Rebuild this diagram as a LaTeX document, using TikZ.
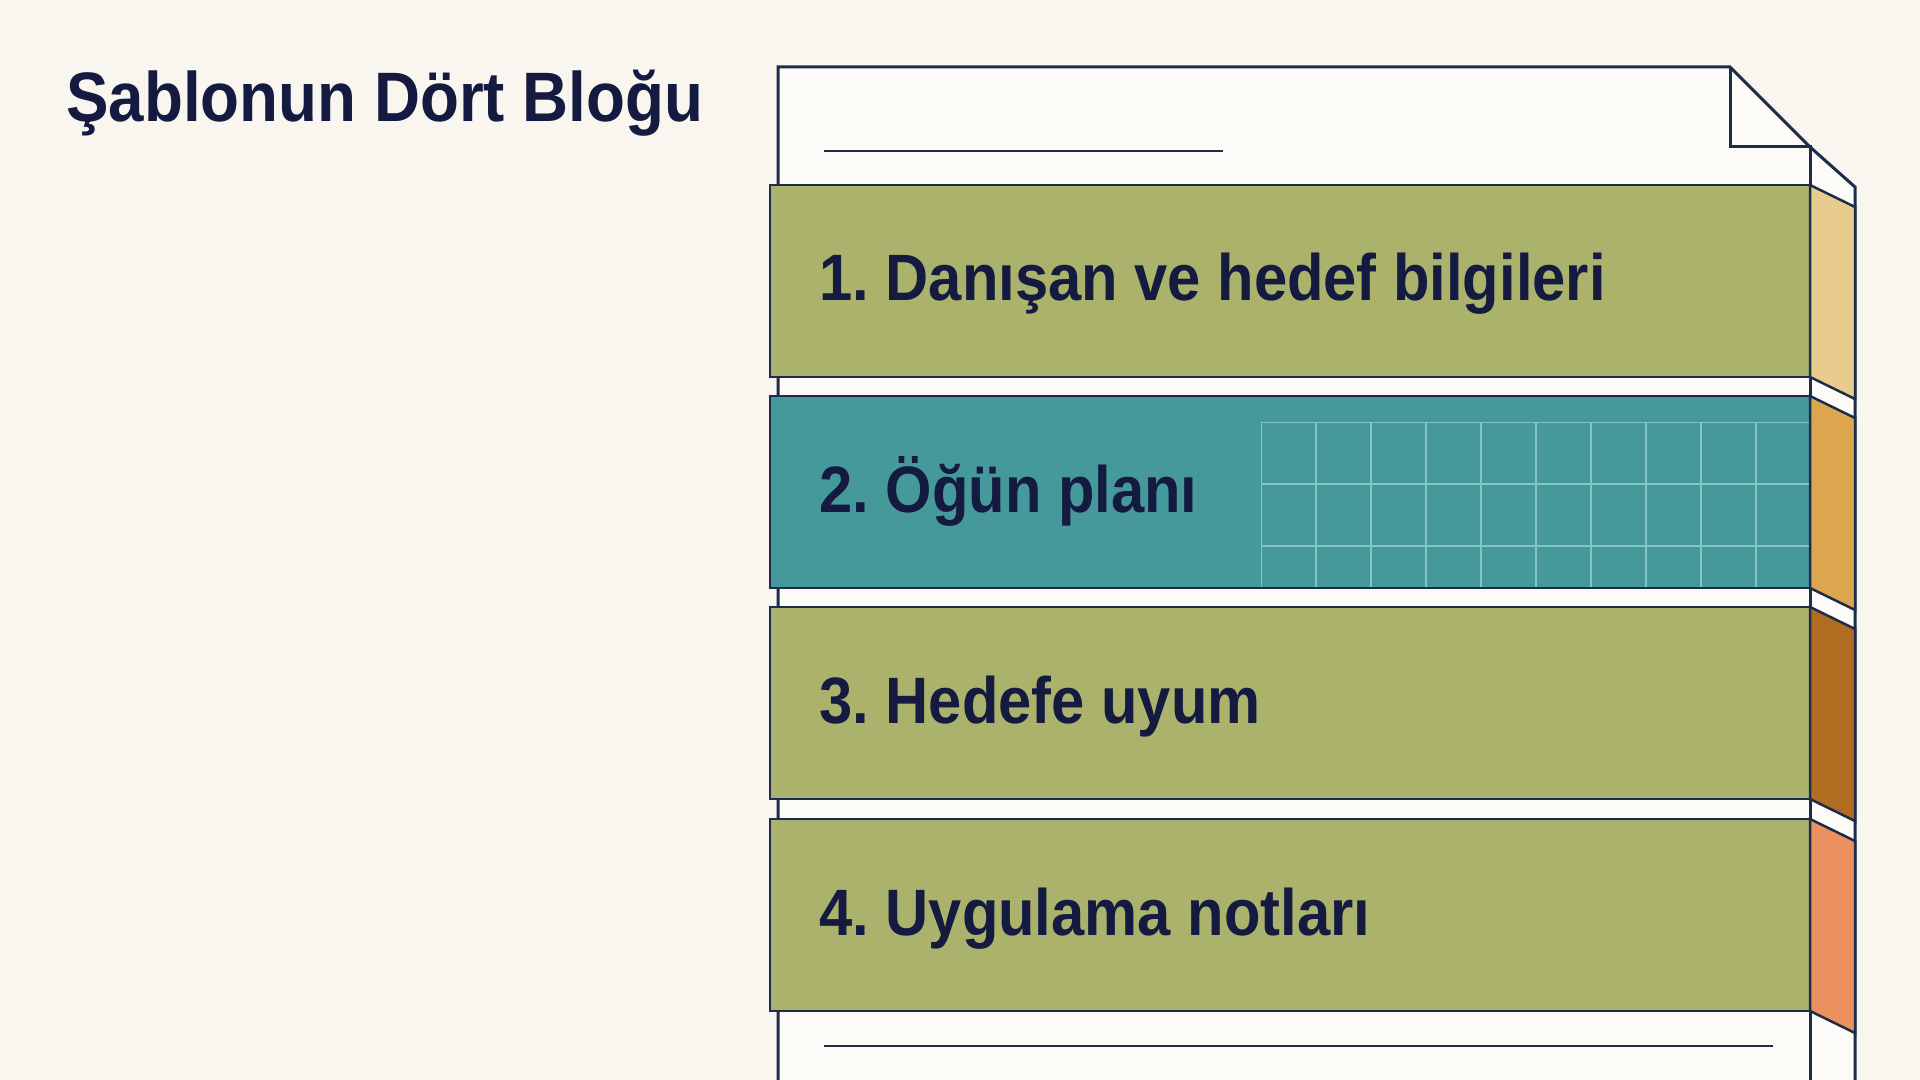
\documentclass[tikz,border=0pt]{standalone}
\usepackage{fontspec}
\setmainfont{Liberation Sans}
\newfontfamily\headfont{Liberation Sans}[FakeStretch=0.91]
\frenchspacing
\definecolor{bg}{HTML}{F8F6EE}
\definecolor{paper}{HTML}{FCFBF7}
\definecolor{navy}{HTML}{1D2B4C}
\definecolor{ink}{HTML}{141A40}
\definecolor{olive}{HTML}{ABB26B}
\definecolor{tealc}{HTML}{46999A}
\definecolor{gridc}{HTML}{86C6C2}
\definecolor{tabA}{HTML}{E8CC8E}
\definecolor{tabB}{HTML}{DBA64E}
\definecolor{tabC}{HTML}{B06D22}
\definecolor{tabD}{HTML}{EA915F}
\begin{document}
\begin{tikzpicture}[x=0.5pt,y=-0.5pt,
  outline/.style={draw=navy, line width=1.5pt, line join=miter},
  blockbox/.style={draw=navy, line width=1.25pt, line join=miter},
  rulel/.style={draw=navy, line width=1.25pt},
  gridline/.style={draw=gridc, line width=1pt},
  label/.style={anchor=base west, text=ink, inner sep=0pt, font=\headfont\bfseries\fontsize{32.8}{38}\selectfont\frenchspacing},
  titlestyle/.style={anchor=base west, text=ink, inner sep=0pt, font=\headfont\bfseries\fontsize{35}{40}\selectfont}]
\useasboundingbox (0,0) rectangle (1920,1080);
\fill[bg] (0,0) rectangle (1920,1080);
% paper sheet
\coordinate (pBL) at (778,1080);
\coordinate (pTL) at (778,67);
\coordinate (pF) at (1730,67);
\coordinate (pFI) at (1730,147);
\coordinate (pFB) at (1810,147);
\coordinate (pSR) at (1855,187);
\coordinate (pBR) at (1855,1080);
\coordinate (pBF) at (1810,1080);
\fill[paper] (pBL) -- (pTL) -- (pF) -- (pFB) -- (pSR) -- (pBR) -- cycle;
\draw[outline] (pBL) -- (pTL) -- (pF) -- (pFB) -- (pSR) -- (pBR);
\draw[outline] (pF) -- (pFI) -- (pFB) -- (pBF);
% text rules on the sheet
\coordinate (r1a) at (824,151); \coordinate (r1b) at (1223,151);
\coordinate (r2a) at (824,1046); \coordinate (r2b) at (1773,1046);
\draw[rulel] (r1a) -- (r1b);
\draw[rulel] (r2a) -- (r2b);
% blocks and side tabs
\foreach \t/\fc/\tc in {185/olive/tabA, 396/tealc/tabB, 607/olive/tabC, 819/olive/tabD} {
  \draw[blockbox, fill=\fc] (770,\t) rectangle (1810,\t+192);
  \draw[blockbox, fill=\tc] (1810,\t) -- (1855,\t+22) -- (1855,\t+214) -- (1810,\t+192) -- cycle;
}
% grid in block 2
\begin{scope}
  \clip (1261,422) rectangle (1810,588);
  \foreach \gx in {0,...,9} \draw[gridline] (1261+55*\gx,422) -- (1261+55*\gx,600);
  \foreach \gy in {422,484,546} \draw[gridline] (1261,\gy) -- (1820,\gy);
\end{scope}
\draw[blockbox] (770,396) rectangle (1810,588);
% labels
\node[titlestyle] (title) at (66,122) {Şablonun Dört Bloğu};
\node[label] (t1) at (819,301) {1. Danışan ve hedef bilgileri};
\node[label] (t2) at (819,512) {2. Öğün planı};
\node[label] (t3) at (819,723) {3. Hedefe uyum};
\node[label] (t4) at (819,935) {4. Uygulama notları};
\end{tikzpicture}
\end{document}
